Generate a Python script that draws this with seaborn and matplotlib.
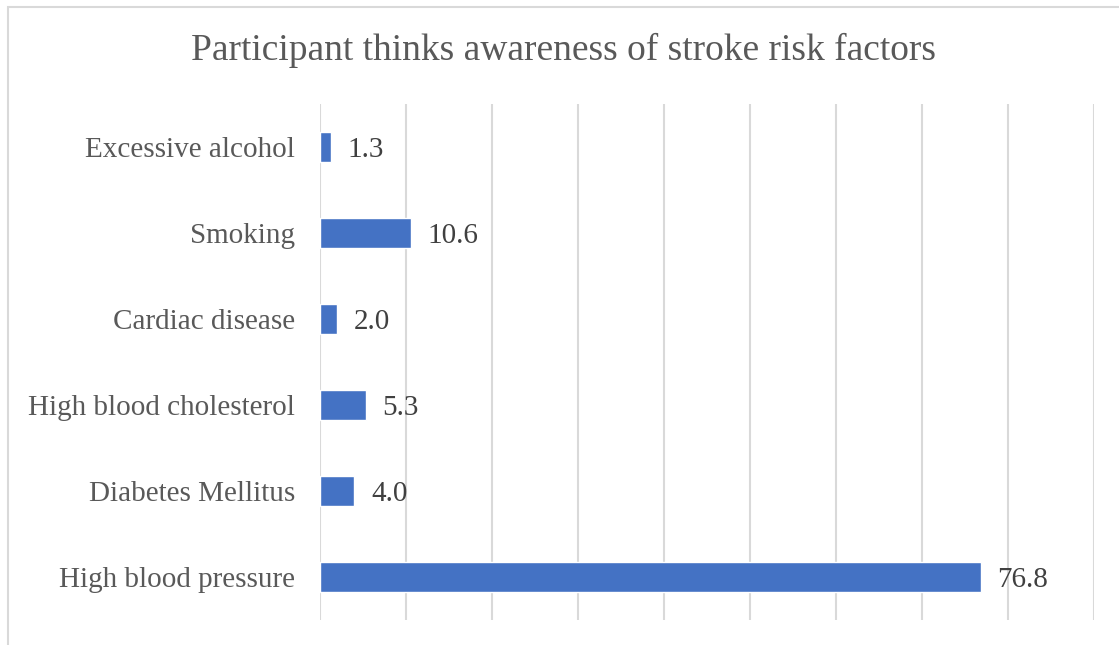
import matplotlib
matplotlib.use("Agg")
import matplotlib.pyplot as plt
import seaborn as sns
import pandas as pd
from matplotlib.patches import Rectangle

categories = ["Excessive alcohol", "Smoking", "Cardiac disease",
              "High blood cholesterol", "Diabetes Mellitus", "High blood pressure"]
values = [1.3, 10.6, 2.0, 5.3, 4.0, 76.8]
value_labels = ["1.3", "10.6", "2.0", "5.3", "4.0", "76.8"]
title = "Participant thinks awareness of stroke risk factors"

df = pd.DataFrame({"factor": categories, "pct": values})

sns.set_theme(style="white")
plt.rcParams["font.family"] = ["Liberation Serif", "DejaVu Serif"]

text_color = "#595959"
grid_color = "#D9D9D9"
bar_color = "#4472C4"

fig = plt.figure(figsize=(11.19, 6.45), dpi=100)
ax = fig.add_axes([0.286, 0.0388, 0.6917, 0.80])

sns.barplot(data=df, x="pct", y="factor", orient="h", color=bar_color,
            saturation=1, width=0.35, ax=ax)

ax.set_xlim(0, 90)
ax.set_xticks(range(0, 91, 10))
ax.set_xticklabels([])
ax.tick_params(axis="x", length=0)
ax.tick_params(axis="y", length=0, pad=18, labelsize=21, labelcolor=text_color)
for t in ax.get_yticklabels():
    t.set_verticalalignment("center_baseline")
ax.grid(axis="x", color=grid_color, linewidth=1.5)
ax.set_axisbelow(True)
for s in ax.spines.values():
    s.set_visible(False)
ax.set_xlabel("")
ax.set_ylabel("")

for i, (v, lab) in enumerate(zip(values, value_labels)):
    ax.annotate(lab, xy=(v, i), xytext=(12, 0), textcoords="offset points",
                ha="left", va="center_baseline", fontsize=21, color="#404040")

fig.text(0.504, 0.922, title, ha="center", va="center", fontsize=27,
         color=text_color)

# outer chart frame (left and top edges)
fig.patches.append(Rectangle((8 / 1119, -0.05), 1.2, 1 - 7 / 645 + 0.05,
                             transform=fig.transFigure, fill=False,
                             edgecolor=grid_color, linewidth=1.5))

fig.savefig("out.png", dpi=100)
